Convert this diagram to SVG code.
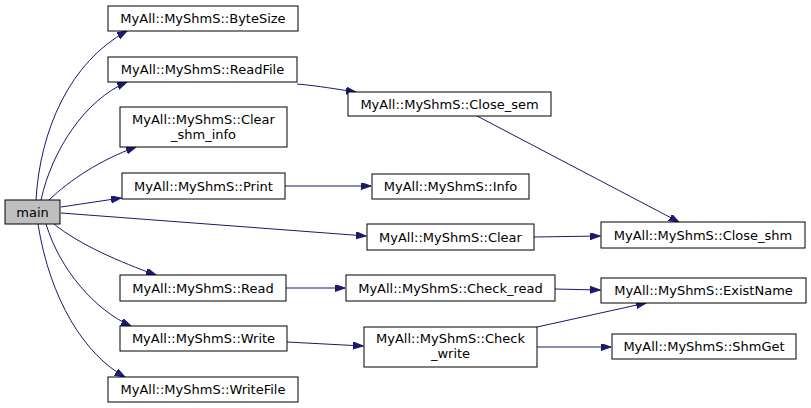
<svg xmlns="http://www.w3.org/2000/svg" width="811" height="408" viewBox="0 0 811 408">
<style>
.n rect{fill:#ffffff;stroke:#000000;stroke-width:1}
.n text{font-family:"DejaVu Sans",sans-serif;font-size:13px;fill:#000000;text-anchor:middle}
#edges path{fill:none;stroke:#191970;stroke-width:1;marker-end:url(#ah)}
</style>
<defs>
<marker id="ah" markerUnits="userSpaceOnUse" markerWidth="11" markerHeight="8" refX="10" refY="3.5" orient="auto">
<path d="M0,0 L10,3.5 L0,7 z" fill="#191970" stroke="#191970" stroke-width="1"/>
</marker>
</defs>
<rect width="811" height="408" fill="#ffffff"/>
<g id="edges">
<path d="M36,200 C40,130 70,62 127,31"/>
<path d="M41,200 C52,150 85,100 127,82"/>
<path d="M49,200 C70,180 100,160 136,147"/>
<path d="M61,207 L121,198"/>
<path d="M61,213 L366,236"/>
<path d="M54,224 C80,245 120,262 156,275"/>
<path d="M46,224 C60,270 95,310 131,326"/>
<path d="M38,224 C50,300 85,355 125,377"/>
<path d="M297,84 C320,86 335,89 356,92"/>
<path d="M477,116 L679,222"/>
<path d="M285,186 L371,186"/>
<path d="M534,237 L600,236"/>
<path d="M286,288 L345,288"/>
<path d="M555,289 L600,290"/>
<path d="M287,342 L363,346"/>
<path d="M537,327 L646,303"/>
<path d="M537,347 L611,347"/>
</g>
<g id="main" class="n"><rect x="5" y="200" width="55" height="24" style="fill:#bfbfbf"/><text x="32.5" y="216.5">main</text></g>
<g id="bytesize" class="n"><rect x="108" y="6" width="190" height="25"/><text x="203" y="23">MyAll::MyShmS::ByteSize</text></g>
<g id="readfile" class="n"><rect x="108" y="57" width="189" height="25"/><text x="202.5" y="74">MyAll::MyShmS::ReadFile</text></g>
<g id="clear_shm_info" class="n"><rect x="120" y="107" width="167" height="40"/><text x="203.5" y="124">MyAll::MyShmS::Clear</text><text x="203.5" y="139">_shm_info</text></g>
<g id="print" class="n"><rect x="122" y="173" width="163" height="26"/><text x="203.5" y="190.5">MyAll::MyShmS::Print</text></g>
<g id="read" class="n"><rect x="120" y="275" width="166" height="26"/><text x="203" y="292.5">MyAll::MyShmS::Read</text></g>
<g id="write" class="n"><rect x="120" y="326" width="167" height="25"/><text x="203.5" y="343">MyAll::MyShmS::Write</text></g>
<g id="writefile" class="n"><rect x="108" y="377" width="190" height="25"/><text x="203" y="394">MyAll::MyShmS::WriteFile</text></g>
<g id="close_sem" class="n"><rect x="348" y="92" width="203" height="24"/><text x="449.5" y="108.5">MyAll::MyShmS::Close_sem</text></g>
<g id="info" class="n"><rect x="372" y="174" width="157" height="25"/><text x="450.5" y="191">MyAll::MyShmS::Info</text></g>
<g id="clear" class="n"><rect x="367" y="224" width="167" height="26"/><text x="450.5" y="241.5">MyAll::MyShmS::Clear</text></g>
<g id="check_read" class="n"><rect x="346" y="275" width="209" height="26"/><text x="450.5" y="292.5">MyAll::MyShmS::Check_read</text></g>
<g id="check_write" class="n"><rect x="364" y="327" width="173" height="40"/><text x="450.5" y="343">MyAll::MyShmS::Check</text><text x="450.5" y="358">_write</text></g>
<g id="close_shm" class="n"><rect x="601" y="222" width="204" height="26"/><text x="703" y="239.5">MyAll::MyShmS::Close_shm</text></g>
<g id="existname" class="n"><rect x="601" y="278" width="205" height="25"/><text x="703.5" y="295">MyAll::MyShmS::ExistName</text></g>
<g id="shmget" class="n"><rect x="612" y="334" width="184" height="25"/><text x="704" y="351">MyAll::MyShmS::ShmGet</text></g>
</svg>
